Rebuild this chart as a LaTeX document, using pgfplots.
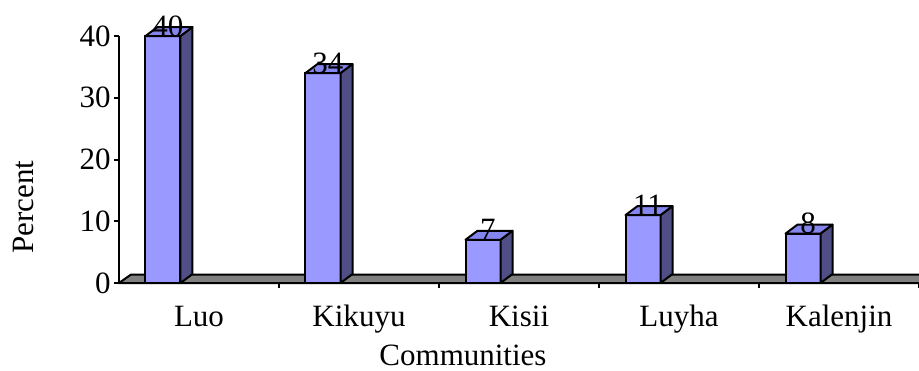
\documentclass[border=0pt]{standalone}
\usepackage{fontspec}
\setmainfont{Liberation Serif}
\usepackage{pgfplots}
\usepackage{pgfplotstable}
\pgfplotsset{compat=1.18}
\definecolor{frontc}{HTML}{9999FF}
\definecolor{sidec}{HTML}{4F4F86}
\definecolor{topc}{HTML}{8585EE}
\definecolor{floorc}{HTML}{808080}

\pgfplotstableread{
x y
0 40
1 34
2 7
3 11
4 8
}\datatable

% side and top faces of a 3D bar, drawn at the top of the bar (category centre, value)
\pgfdeclareplotmark{box3d}{%
  \pgfsetlinewidth{1pt}\pgfsetstrokecolor{black}\pgfsetroundjoin
  \pgfsetfillcolor{sidec}%
  \pgfpathmoveto{\pgfpoint{-9.25pt}{0pt}}%
  \pgfpathlineto{\pgfpoint{-3.25pt}{4.5pt}}%
  \pgfpathlineto{\pgfpoint{-3.25pt}{4.5pt-\hval*3.0875pt}}%
  \pgfpathlineto{\pgfpoint{-9.25pt}{-\hval*3.0875pt}}%
  \pgfpathclose
  \pgfusepath{fill,stroke}%
  \pgfsetfillcolor{topc}%
  \pgfpathmoveto{\pgfpoint{-26.75pt}{0pt}}%
  \pgfpathlineto{\pgfpoint{-9.25pt}{0pt}}%
  \pgfpathlineto{\pgfpoint{-3.25pt}{4.5pt}}%
  \pgfpathlineto{\pgfpoint{-20.75pt}{4.5pt}}%
  \pgfpathclose
  \pgfusepath{fill,stroke}%
}

\begin{document}
\begin{tikzpicture}[font=\fontsize{15.5pt}{18pt}\selectfont]
\begin{axis}[
  scale only axis, width=400pt, height=123.5pt,
  xmin=-0.5, xmax=4.5, ymin=0, ymax=40,
  axis x line*=bottom, axis y line*=left,
  clip=false,
  ytick={0,10,20,30,40},
  xtick={0.5,1.5,2.5,3.5,4.5},
  xticklabels={,,,,},
  extra x ticks={0,1,2,3,4},
  extra x tick labels={Luo,Kikuyu,Kisii,Luyha,Kalenjin},
  extra x tick style={major tick length=0pt,
    xticklabel style={anchor=base, yshift=-21.5pt, inner sep=0pt}},
  tick align=outside,
  major tick length=2.5pt,
  tick style={black, line width=1pt},
  axis line style={black, line width=1pt},
  yticklabel style={inner sep=0pt, xshift=-1.5pt},
  /pgf/number format/assume math mode=true,
]
\coordinate (bl) at (rel axis cs:0,0);
\coordinate (tr) at (rel axis cs:1,1);
% floor
\addplot[fill=floorc, draw=black, line width=1pt, line join=round]
  coordinates {(-0.5,0) (4.5,0) (4.575,1.376) (-0.425,1.376)} -- cycle;
% front faces
\addplot[ybar, bar width=17.5pt, bar shift=-18pt, fill=frontc, draw=black,
  line width=1pt] table[x=x,y=y]{\datatable};
% side and top faces + value labels
\addplot[scatter, only marks, mark=box3d,
  scatter/@pre marker code/.code={}, scatter/@post marker code/.code={},
  visualization depends on=rawy\as\hval,
  nodes near coords,
  every node near coord/.append style={anchor=base, inner sep=0pt,
    xshift=-15.5pt, yshift=0pt, black,
    /pgf/number format/assume math mode=true},
] table[x=x,y=y]{\datatable};
\node[rotate=90, anchor=center, inner sep=0pt] at ([xshift=-47.5pt]rel axis cs:0,0.308) {Percent};
\node[anchor=base, inner sep=0pt] at ([yshift=-41pt]rel axis cs:0.43,0) {Communities};
\end{axis}
\pgfresetboundingbox
\path[use as bounding box] ([shift={(-59.5pt,-43.5pt)}]bl) rectangle ([shift={(0pt,18pt)}]tr);
\end{tikzpicture}
\end{document}
